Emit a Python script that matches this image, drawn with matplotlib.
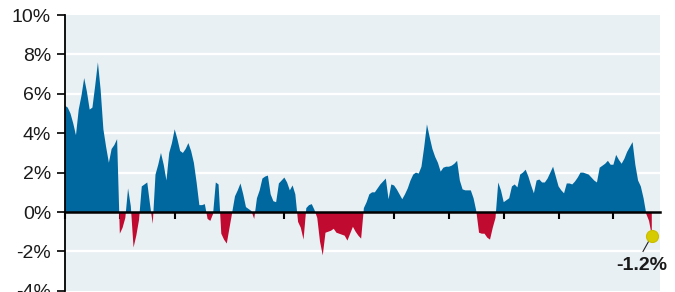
#------------Imports----------------------------------#
import matplotlib
matplotlib.use('Agg')
import matplotlib.pyplot as plt
import numpy as np
#-----------------------------------------------------#

#----Data (quarterly, % change)----#
growth = [5.4, 5.3, 5.0, 4.5, 3.9, 5.2, 5.9, 6.8, 6.1, 5.2,
          5.3, 6.4, 7.6, 6.2, 4.2, 3.3, 2.5, 3.2, 3.4, 3.7,
          -1.1, -0.8, -0.3, 1.2, 0.3, -1.8, -1.2, -0.4, 1.3, 1.4,
          1.5, 0.4, -0.6, 1.9, 2.4, 3.0, 2.4, 1.6, 3.0, 3.5,
          4.2, 3.7, 3.1, 3.0, 3.2, 3.5, 3.1, 2.5, 1.5, 0.35,
          0.35, 0.4, -0.35, -0.45, -0.1, 1.5, 1.4, -1.1, -1.4, -1.6,
          -0.8, 0.0, 0.8, 1.1, 1.45, 0.9, 0.25, 0.15, 0.05, -0.35,
          0.7, 1.1, 1.7, 1.8, 1.85, 0.9, 0.55, 0.5, 1.45, 1.6,
          1.75, 1.5, 1.1, 1.35, 0.9, -0.5, -0.8, -1.4, 0.2, 0.35,
          0.4, 0.1, -0.3, -1.5, -2.2, -1.05, -1.0, -0.95, -0.85, -1.05,
          -1.1, -1.15, -1.2, -1.45, -1.1, -0.75, -1.0, -1.2, -1.35, 0.2,
          0.5, 0.9, 1.0, 1.0, 1.2, 1.4, 1.55, 1.7, 0.65, 1.4,
          1.35, 1.15, 0.9, 0.65, 0.9, 1.2, 1.6, 1.9, 2.0, 1.95,
          2.3, 3.3, 4.45, 3.8, 3.2, 2.8, 2.5, 2.05, 2.25, 2.3,
          2.3, 2.35, 2.45, 2.6, 1.6, 1.15, 1.1, 1.1, 1.1, 0.7,
          0.05, -1.05, -1.1, -1.1, -1.3, -1.4, -0.8, -0.3, 1.5, 1.1,
          0.5, 0.6, 0.7, 1.3, 1.4, 1.25, 1.9, 2.0, 2.15, 1.8,
          1.35, 0.95, 1.6, 1.65, 1.5, 1.5, 1.7, 2.0, 2.3, 1.8,
          1.3, 1.1, 0.95, 1.45, 1.45, 1.4, 1.55, 1.75, 2.0, 2.0,
          1.95, 1.9, 1.75, 1.6, 1.5, 2.25, 2.35, 2.45, 2.6, 2.4,
          2.4, 2.9, 2.65, 2.45, 2.7, 3.05, 3.3, 3.55, 2.4, 1.6,
          1.3, 0.7, -0.1, -0.45, -1.2]
yticks = [-4, -2, 0, 2, 4, 6, 8, 10]                 #y axis tick values
ytick_labels = ['-4%', '-2%', '0%', '2%', '4%', '6%', '8%', '10%']
latest_label = '-1.2%'                                #callout on last point
#-----------------------------------------------------#

plt.rcParams['font.family'] = ['Liberation Sans', 'DejaVu Sans']

quarters = np.arange(len(growth))                     #one step per quarter
values = np.array(growth)

plot = plt.figure(figsize=(6.75, 2.92), dpi=100)      #675x292 px
axes = plot.add_axes([0.0963, 0.004, 0.8815, 0.9446])
axes.set_facecolor('#e9f0f4')

#----Area fills: blue above zero, red below-----------#
axes.fill_between(quarters, values, 0, where=values >= 0, interpolate=True,
                  color='#00689f', linewidth=0, zorder=2)
axes.fill_between(quarters, values, 0, where=values <= 0, interpolate=True,
                  color='#c10a2f', linewidth=0, zorder=2)

#----Axes, grid, ticks--------------------------------#
axes.set_xlim(0, 217)
axes.set_ylim(-4, 10)
axes.set_yticks(yticks)
axes.set_yticklabels(ytick_labels, fontsize=14, color='#1a1a1a')
for g in yticks:
    if g not in (0, -4, 10):
        axes.axhline(g, color='white', linewidth=1.6, zorder=1)

for side in ['top', 'right']:
    axes.spines[side].set_visible(False)
axes.spines['left'].set_linewidth(1.3)
axes.spines['bottom'].set_position(('data', 0))     #x axis sits on the zero line
axes.spines['bottom'].set_linewidth(1.8)
axes.spines['bottom'].set_zorder(3)
axes.tick_params(axis='y', direction='out', length=6, width=1.2, pad=4)
axes.set_xticks(np.arange(0, len(growth), 20))
axes.tick_params(axis='x', direction='out', length=5, width=1.5, labelbottom=False)

#----Callout on the latest value----------------------#
last_x = quarters[-1]
last_y = values[-1]
axes.plot([last_x - 3.2, last_x - 0.2], [last_y - 0.8, last_y - 0.05],
          color='#222222', linewidth=0.8, zorder=4, clip_on=False)
axes.scatter([last_x], [last_y], s=75, color='#d6cb00', edgecolor='#c9bd00',
             linewidth=0.8, zorder=5, clip_on=False)
axes.text(last_x - 3.6, last_y - 1.5, latest_label, fontsize=14, fontweight='bold',
          ha='center', va='center', color='#1a1a1a', clip_on=False)

plot.savefig('out.png', dpi=100)
